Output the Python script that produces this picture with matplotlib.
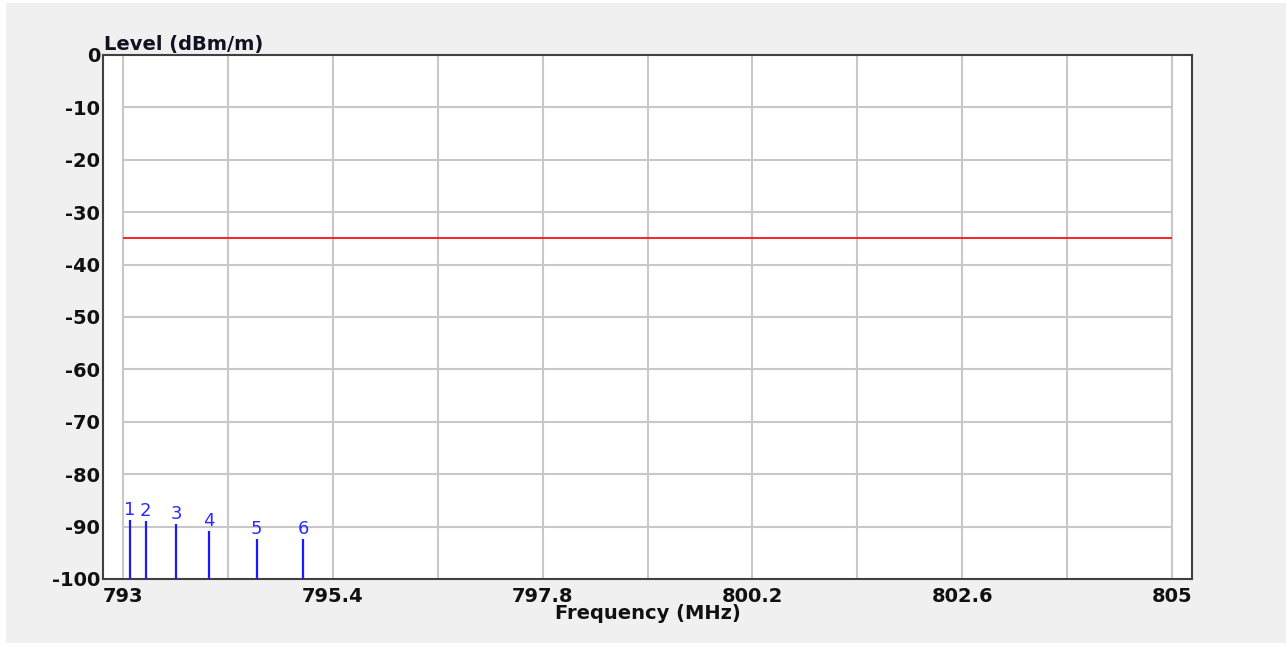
import matplotlib
matplotlib.use("Agg")
import matplotlib.pyplot as plt
from matplotlib.patches import Rectangle

plt.rcParams['font.family'] = ['DejaVu Sans']

# ---- data ----
marker_ids = ["1", "2", "3", "4", "5", "6"]
marker_freqs = [793.08, 793.26, 793.61, 793.98, 794.53, 795.06]   # MHz
marker_levels = [-88.7, -89.0, -89.5, -90.9, -92.4, -92.4]        # dBm/m
limit_level = -35.0
freq_min, freq_max = 793.0, 805.0
freq_grid = [793.0, 794.2, 795.4, 796.6, 797.8, 799.0, 800.2, 801.4, 802.6, 803.8, 805.0]
freq_tick_vals = [793.0, 795.4, 797.8, 800.2, 802.6, 805.0]
freq_tick_labels = ["793", "795.4", "797.8", "800.2", "802.6", "805"]
level_ticks = [0, -10, -20, -30, -40, -50, -60, -70, -80, -90, -100]
level_tick_labels = ["0", "-10", "-20", "-30", "-40", "-50", "-60", "-70", "-80", "-90", "-100"]

W, H = 1286, 646
fig = plt.figure(figsize=(W / 100, H / 100), dpi=100, facecolor='white')
# gray panel
fig.patches.append(Rectangle((6 / W, 1 - 643 / H), (W - 6) / W, (643 - 3) / H,
                             transform=fig.transFigure, facecolor='#f0f0f0',
                             edgecolor='none', zorder=-10))

ax_l, ax_r, ax_t, ax_b = 103, 1192, 55, 579
ax = fig.add_axes([ax_l / W, 1 - ax_b / H, (ax_r - ax_l) / W, (ax_b - ax_t) / H])
ax.set_zorder(5)
ax.set_facecolor('white')

pad = (freq_max - freq_min) * 20 / (1172 - 123)
ax.set_xlim(freq_min - pad, freq_max + pad)
ax.set_ylim(-100, 0)

# grid (only within data range)
ax.vlines(freq_grid, -100, 0, colors='#c8c8c8', linewidth=1.5, zorder=1)
ax.hlines(level_ticks[1:-1], freq_min, freq_max, colors='#c8c8c8', linewidth=1.5, zorder=1)

# limit line
ax.hlines([limit_level], freq_min, freq_max, colors='#ff1010', linewidth=1.3, zorder=2)

# markers
ax.vlines(marker_freqs, -100, marker_levels, colors='#1a1aff', linewidth=1.6, zorder=3)
for mid, f, lv in zip(marker_ids, marker_freqs, marker_levels):
    ax.annotate(mid, xy=(f, lv), xytext=(0, 3.8), textcoords='offset points',
                ha='center', va='baseline', color='#2a2aff', fontsize=13, zorder=4)

tick_font = dict(fontsize=14, fontweight='bold', color='#111111')
ax.set_xticks(freq_tick_vals)
ax.set_xticklabels(freq_tick_labels, **tick_font)
ax.set_yticks(level_ticks)
ax.set_yticklabels(level_tick_labels, **tick_font)
ax.tick_params(axis='both', length=0)
ax.tick_params(axis='x', pad=5.5)
ax.tick_params(axis='y', pad=2)

for s in ax.spines.values():
    s.set_color('#404040')
    s.set_linewidth(1.5)

ax.set_xlabel("Frequency (MHz)", fontsize=14, fontweight='bold', color='#111111', labelpad=-1.5)
ax.annotate("Level (dBm/m)", xy=(0, 1), xycoords='axes fraction', xytext=(1, 3.5),
            textcoords='offset points', ha='left', va='baseline',
            fontsize=14, fontweight='bold', color='#111122')

fig.savefig("out.png", dpi=100, facecolor=fig.get_facecolor())
